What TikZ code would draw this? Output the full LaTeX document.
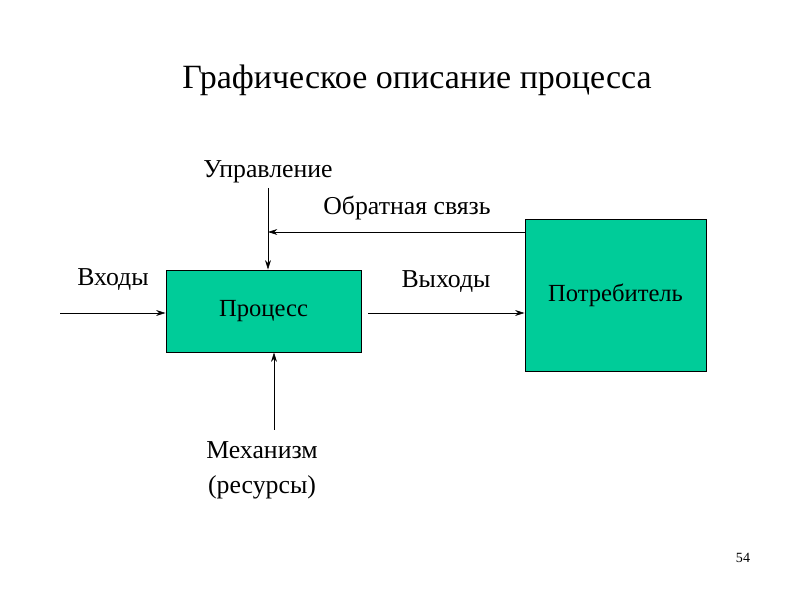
\documentclass[tikz,border=0pt]{standalone}
\usepackage{fontspec}
\setmainfont{Liberation Serif}
\usetikzlibrary{arrows.meta}
\definecolor{boxfill}{HTML}{00CC99}
\begin{document}
\begin{tikzpicture}[x=0.03cm,y=-0.03cm,
  box/.style={draw=black,fill=boxfill,line width=0.8pt,font=\fontsize{21}{24}\selectfont},
  lbl/.style={font=\fontsize{22}{26}\selectfont,align=center},
  conn/.style={-{Stealth[length=8pt,width=5pt]},line width=0.5pt}]
\useasboundingbox (0,0) rectangle (800,600);
\node[font=\fontsize{29}{34}\selectfont] (title) at (417,80) {Графическое описание процесса};
\node[box,minimum width=195*0.03cm,minimum height=82*0.03cm] (proc) at (263.5,311) {Процесс};
\node[box,minimum width=181*0.03cm,minimum height=152*0.03cm] (cons) at (615.5,295) {Потребитель};
\coordinate (in) at (60,313);
\node[lbl] (inl) at (113,280) {Входы};
\draw[conn] (in) -- (in -| proc.west);
\node[lbl] (outl) at (446,282) {Выходы};
\coordinate (outs) at (368,313);
\draw[conn] (outs) -- (outs -| cons.west);
\node[lbl] (ctl) at (268,172) {Управление};
\coordinate (ctls) at (268,188);
\draw[conn] (ctls) -- (ctls |- proc.north);
\node[lbl] (fbl) at (407,208) {Обратная связь};
\coordinate (fbe) at (268,232);
\draw[conn] (fbe -| cons.west) -- (fbe);
\node[lbl,font=\fontsize{22}{30}\selectfont] (mech) at (262,470) {Механизм\\(ресурсы)};
\coordinate (mechs) at (274,430);
\draw[conn] (mechs) -- (mechs |- proc.south);
\node[font=\fontsize{12}{14}\selectfont] (pg) at (743,558) {54};
\end{tikzpicture}
\end{document}
